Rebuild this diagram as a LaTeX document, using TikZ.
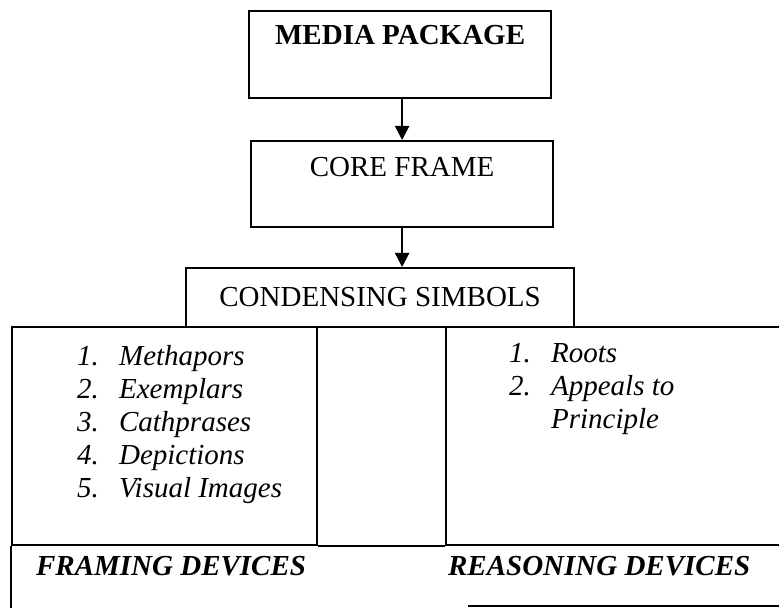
\documentclass[tikz,border=0pt]{standalone}
\usepackage{fontspec}
\setmainfont{Liberation Serif}
\usetikzlibrary{arrows.meta}

\begin{document}
\begin{tikzpicture}[x=0.5pt,y=-0.5pt,line width=1.1pt,
    box/.style={draw,rectangle,inner sep=0pt,anchor=north west,font=\fontsize{14.5}{17}\selectfont},
    items/.style={anchor=base west,inner sep=0pt,font=\fontsize{14.5}{16.5}\selectfont\itshape},
    devices/.style={anchor=base west,inner sep=0pt,font=\fontsize{14.5}{17}\selectfont\bfseries\itshape}]
      \useasboundingbox (0,0) rectangle (779,608);
      \clip (0,0) rectangle (779,608);
      \draw
        (248,10) node[box,minimum width=151pt,text height=16.5pt,text depth=27pt,font=\fontsize{14.5}{17}\selectfont\bfseries] (media){MEDIA PACKAGE}
        (250,140) node[box,minimum width=151pt,text height=17.5pt,text depth=25.5pt] (core){CORE FRAME}
        (185,267) node[box,minimum width=194pt,text height=19pt,text depth=10.5pt] (symbols){CONDENSING SIMBOLS}
        (11,326) node[box,minimum width=152.5pt,minimum height=109pt] (framing){}
        (445,326) node[box,minimum width=177.5pt,minimum height=109pt] (reasoning){}
        (76,365) node[items] (frameitems){\begin{tabular}[t]{@{}p{21pt}@{}l@{}}1.&Methapors\\2.&Exemplars\\3.&Cathprases\\4.&Depictions\\5.&Visual Images\end{tabular}}
        (508,362) node[items] (reasonitems){\begin{tabular}[t]{@{}p{21pt}@{}l@{}}1.&Roots\\2.&Appeals to\\&Principle\end{tabular}}
        (35,575) node[devices] (framelabel){FRAMING DEVICES}
        (447,575) node[devices] (reasonlabel){REASONING DEVICES};
      \begin{scope}[-{Triangle[length=7pt,width=7pt]}]
        \draw (core.north |- media.south) -- (core.north);
        \draw (core.south) -- (core.south |- symbols.north);
      \end{scope}
      \draw (framing.south east) -- (reasoning.south west);
      \draw (framing.south west) -- ++(0,70);
      \draw (468,606) -- (800,606);
    \end{tikzpicture}
\end{document}
